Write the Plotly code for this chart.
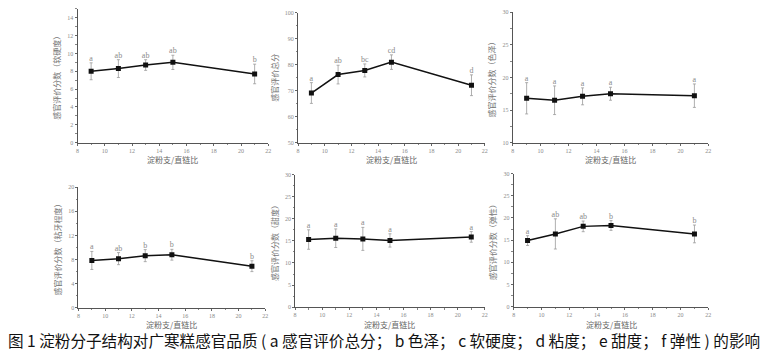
import plotly.graph_objects as go

W, H = 768, 352

ratio = [9, 11, 13, 15, 21]

# a 感官评价总分
total_mean = [69.1, 76.2, 77.8, 81.0, 72.1]
total_err = [4.0, 3.6, 2.5, 2.8, 4.0]
total_lbl = ["a", "ab", "bc", "cd", "d"]

# b 色泽
color_mean = [16.8, 16.5, 17.1, 17.5, 17.2]
color_err = [2.4, 2.2, 1.3, 1.0, 1.8]
color_lbl = ["a", "a", "a", "a", "a"]

# c 软硬度
hard_mean = [8.0, 8.3, 8.7, 9.0, 7.7]
hard_err = [0.95, 1.0, 0.6, 0.8, 1.1]
hard_lbl = ["a", "ab", "ab", "ab", "b"]

# d 粘度
sticky_mean = [7.85, 8.15, 8.65, 8.8, 6.9]
sticky_err = [1.5, 1.0, 1.0, 0.9, 0.9]
sticky_lbl = ["a", "ab", "b", "b", "b"]

# e 甜度
sweet_mean = [15.3, 15.6, 15.45, 15.1, 15.9]
sweet_err = [2.2, 2.1, 2.6, 1.5, 1.2]
sweet_lbl = ["a", "a", "a", "a", "a"]

# f 弹性
elastic_mean = [14.9, 16.4, 18.1, 18.3, 16.4]
elastic_err = [1.1, 3.4, 1.2, 1.1, 2.0]
elastic_lbl = ["a", "ab", "ab", "b", "b"]

x_title = "淀粉支/直链比"
x_ticks = [8, 10, 12, 14, 16, 18, 20, 22]

panels = [
    # (mean, err, labels, ytitle, yrange, ydtick, minor_dtick, xdom_px, ydom_px, xtitle_y_px)
    (hard_mean, hard_err, hard_lbl, "感官评价分数（软硬度）", [0, 15], 2, 1, (76, 268), (142, 6), 159.5),
    (total_mean, total_err, total_lbl, "感官评价总分", [50, 100], 10, 5, (298, 486), (142, 10), 159.5),
    (color_mean, color_err, color_lbl, "感官评价分数（色泽）", [10, 30], 5, 2.5, (514, 711), (142, 9.5), 159.5),
    (sticky_mean, sticky_err, sticky_lbl, "感官评价分数（粘牙程度）", [0, 20], 4, 2, (77, 265), (310, 187.5), 327.5),
    (sweet_mean, sweet_err, sweet_lbl, "感官评价分数（甜度）", [0, 30], 5, 2.5, (295, 486), (309.5, 174.5), 327.5),
    (elastic_mean, elastic_err, elastic_lbl, "感官评价分数（弹性）", [0, 30], 5, 2.5, (515, 711), (309, 173.5), 327.5),
]

fig = go.Figure()
layout = dict(
    width=W, height=H,
    margin=dict(l=0, r=0, t=0, b=0),
    paper_bgcolor="white", plot_bgcolor="white",
    showlegend=False,
)

tick_font = dict(family="Liberation Serif", size=6, color="#8a8a8a")
title_font = dict(family="Noto Sans CJK SC", size=8, color="#777777")
annotations = []

for i, (m, e, lbl, yt, yr, dt, mdt, xd, yd, xty) in enumerate(panels, start=1):
    xa = "x" if i == 1 else f"x{i}"
    ya = "y" if i == 1 else f"y{i}"
    fig.add_trace(go.Scatter(
        x=ratio, y=m, xaxis=xa, yaxis=ya,
        mode="lines+markers",
        line=dict(color="#111111", width=1.5),
        marker=dict(symbol="square", size=5, color="#111111"),
        error_y=dict(type="data", array=e, visible=True, color="#9a9a9a",
                     thickness=0.8, width=1.5),
    ))
    fig.add_trace(go.Scatter(
        x=ratio, y=[a + b for a, b in zip(m, e)], xaxis=xa, yaxis=ya,
        mode="text", text=lbl, textposition="top center",
        textfont=dict(family="Liberation Serif", size=8, color="#8a8a8a"),
    ))
    xk = "xaxis" if i == 1 else f"xaxis{i}"
    yk = "yaxis" if i == 1 else f"yaxis{i}"
    layout[xk] = dict(
        domain=[xd[0] / W, xd[1] / W], anchor=ya,
        range=[8, 22], tickvals=x_ticks, ticks="outside", ticklen=2,
        tickcolor="#666666", showline=True, linecolor="#555555", linewidth=1,
        showgrid=False, zeroline=False, tickfont=tick_font,
        minor=dict(dtick=1, ticks="outside", ticklen=1.5, tickcolor="#888888"),
    )
    layout[yk] = dict(
        domain=[1 - yd[0] / H, 1 - yd[1] / H], anchor=xa,
        range=yr, dtick=dt, tick0=yr[0], ticks="outside", ticklen=2,
        tickcolor="#666666", showline=True, linecolor="#555555", linewidth=1,
        showgrid=False, zeroline=False, tickfont=tick_font,
        minor=dict(dtick=mdt, tick0=yr[0], ticks="outside", ticklen=1.5, tickcolor="#888888"),
        title=dict(text=yt, font=title_font, standoff=5),
    )
    annotations.append(dict(
        text=x_title, x=(xd[0] + xd[1]) / 2 / W, y=1 - xty / H,
        xref="paper", yref="paper", showarrow=False,
        xanchor="center", yanchor="middle",
        font=dict(family="Noto Sans CJK SC", size=8, color="#666666"),
    ))

annotations.append(dict(
    text="图 1 淀粉分子结构对广寒糕感官品质 ( a 感官评价总分； b 色泽； c 软硬度； d 粘度； e 甜度； f 弹性 ) 的影响",
    x=0.5, y=1 - 342.5 / H, xref="paper", yref="paper", showarrow=False,
    font=dict(family="Noto Sans CJK SC", size=15.6, color="#111111"),
    xanchor="center", yanchor="middle",
))
layout["annotations"] = annotations

fig.update_layout(**layout)
fig.write_html("out.html")
